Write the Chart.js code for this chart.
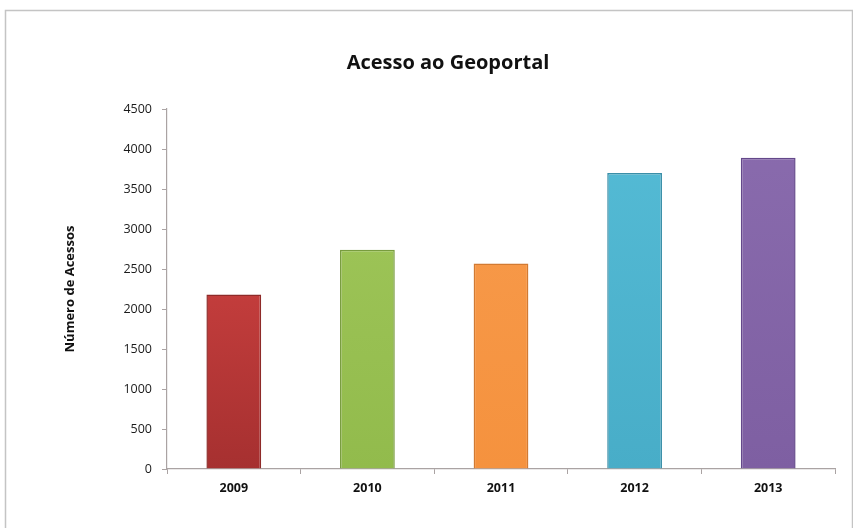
<!DOCTYPE html>
<html>
<head>
<meta charset="utf-8">
<script src="https://cdn.jsdelivr.net/npm/chart.js@4/dist/chart.umd.min.js"></script>
<style>
  html, body { margin: 0; padding: 0; background: #fff; }
  canvas { display: block; }
</style>
</head>
<body>
<canvas id="geoChart" width="853" height="528"></canvas>
<script>
var anos = ['2009', '2010', '2011', '2012', '2013'];
var acessos = [2180, 2740, 2570, 3700, 3890];
var corTopo = ['#e04a48', '#a2c85c', '#f89c4e', '#55bcd6', '#8a6cae'];
var corBase = ['#a63030', '#92bb4c', '#f5923e', '#48adc8', '#7e5fa2'];
var corBorda = ['#8e2a28', '#789c3e', '#d27a32', '#3a8fa8', '#64488a'];
var eixoY = { min: 0, max: 4500, passo: 500 };

// moldura cinzenta à volta do gráfico
var moldura = {
  id: 'moldura',
  beforeDraw: function(chart) {
    var ctx = chart.ctx;
    ctx.save();
    ctx.fillStyle = '#ffffff';
    ctx.fillRect(0, 0, chart.width, chart.height);
    ctx.strokeStyle = '#c4c4c4';
    ctx.lineWidth = 1.5;
    ctx.strokeRect(5.5, 10.5, chart.width - 6, chart.height);
    ctx.restore();
  }
};

function gradiente(context) {
  var chart = context.chart;
  var area = chart.chartArea;
  var i = context.dataIndex;
  if (!area) return corBase[i];
  var g = chart.ctx.createLinearGradient(0, area.top, 0, area.bottom);
  g.addColorStop(0, corTopo[i]);
  g.addColorStop(1, corBase[i]);
  return g;
}

var ctx = document.getElementById('geoChart').getContext('2d');
var grafico = new Chart(ctx, {
  type: 'bar',
  data: {
    labels: anos,
    datasets: [{
      label: 'Acessos',
      data: acessos,
      backgroundColor: gradiente,
      borderColor: corBorda,
      borderWidth: 1.5,
      barPercentage: 0.41,
      categoryPercentage: 1
    }]
  },
  plugins: [moldura],
  options: {
    responsive: false,
    animation: false,
    layout: { padding: { top: 0, right: 18, bottom: 0, left: 61 } },
    plugins: {
      legend: { display: false },
      tooltip: { enabled: false },
      title: {
        display: true,
        text: 'Acesso ao Geoportal',
        color: '#111',
        font: { family: 'Open Sans', size: 20, weight: 'bold' },
        padding: { top: 51, bottom: 34 }
      }
    },
    scales: {
      x: {
        afterFit: function(scale) { scale.height = 59; },
        border: { display: true, color: '#aaa3a3', width: 1.2 },
        grid: { display: true, drawOnChartArea: false, drawTicks: true, tickLength: 5, color: '#aaa3a3', offset: true },
        ticks: { color: '#111', padding: 7, font: { family: 'Open Sans', size: 12.5, weight: 'bold' } }
      },
      y: {
        min: eixoY.min,
        max: eixoY.max,
        afterFit: function(scale) { scale.width = 106; },
        border: { display: true, color: '#aaa3a3', width: 1.2 },
        grid: { display: true, drawOnChartArea: false, drawTicks: true, tickLength: 5, color: '#aaa3a3' },
        ticks: {
          stepSize: eixoY.passo,
          color: '#1a1a1a',
          padding: 10,
          font: { family: 'Open Sans', size: 12.5 },
          callback: function(v) { return String(v); }
        },
        title: {
          display: true,
          text: 'Número de Acessos',
          color: '#111',
          font: { family: 'Open Sans', size: 13, weight: 'bold' },
          padding: { top: 1, bottom: 0 }
        }
      }
    }
  }
});
</script>
</body>
</html>
